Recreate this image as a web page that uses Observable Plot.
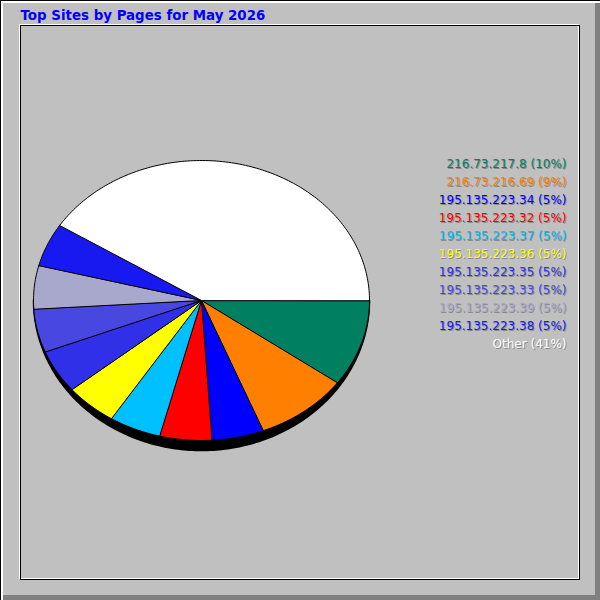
<!DOCTYPE html>
<html><head><meta charset="utf-8">
<script src="https://cdn.jsdelivr.net/npm/d3@7"></script>
<script src="https://cdn.jsdelivr.net/npm/@observablehq/plot@0.6"></script>
<style>html,body{margin:0;padding:0;background:#c0c0c0}svg{display:block}</style>
</head><body><div id="chart"></div>
<script>
const title = "Top Sites by Pages for May 2026";
const sites = ["216.73.217.8","216.73.216.69","195.135.223.34","195.135.223.32","195.135.223.37","195.135.223.36","195.135.223.35","195.135.223.33","195.135.223.39","195.135.223.38","Other"];
const percents = [10,9,5,5,5,5,5,5,5,5,41];
const colors = ["#008060","#ff8000","#0000ff","#ff0000","#00c0ff","#ffff00","#3030e8","#4848e0","#a8a8cc","#1818f0","#ffffff"];

// geometry (layout)
const cx = 201, cy = 300, rx = 168, ry = 140, depth = 10;
const total = d3.sum(percents);

function arcPoints(a0, a1, ryy) {
  const n = Math.max(2, Math.ceil((a1 - a0) / (Math.PI / 180)));
  const pts = [{x: cx, y: cy}];
  for (let j = 0; j <= n; j++) {
    const t = a0 + (a1 - a0) * j / n;
    pts.push({x: cx + rx * Math.cos(t), y: cy + ryy * Math.sin(t)});
  }
  return pts;
}

let cum = 0;
const sliceMarks = percents.map((p, i) => {
  const a0 = cum / total * 2 * Math.PI;
  cum += p;
  const a1 = cum / total * 2 * Math.PI;
  return Plot.line(arcPoints(a0, a1, ry), {x: "x", y: "y", fill: colors[i], stroke: "black", strokeWidth: 1, curve: "linear-closed"});
});
const shadow = Plot.line(arcPoints(0, Math.PI, ry + depth), {x: "x", y: "y", fill: "black", stroke: "black", curve: "linear-closed"});

const legend = sites.map((s, i) => ({label: `${s} (${percents[i]}%)`, color: colors[i], row: i}));
const lx = 566, ly0 = 164, ldy = 18;

const chart = Plot.plot({
  width: 600, height: 600, margin: 0,
  x: {domain: [0, 600], range: [0, 600], axis: null},
  y: {domain: [0, 600], range: [0, 600], axis: null},
  style: {background: "#c0c0c0"},
  marks: [
    Plot.rect([0], {x1: 0, x2: 600, y1: 0, y2: 600, fill: "black"}),
    Plot.rect([0], {x1: 1, x2: 600, y1: 1, y2: 600, fill: "white"}),
    Plot.rect([0], {x1: 3, x2: 600, y1: 3, y2: 600, fill: "#808080"}),
    Plot.rect([0], {x1: 3, x2: 595, y1: 3, y2: 595, fill: "#c0c0c0"}),
    Plot.rect([0], {x1: 19.5, x2: 578.5, y1: 24.5, y2: 578.5, fill: "none", stroke: "white"}),
    Plot.rect([0], {x1: 20.5, x2: 579.5, y1: 25.5, y2: 579.5, fill: "none", stroke: "black"}),
    Plot.text([title], {x: 20, y: 14.8, text: d => d, textAnchor: "start", fill: "#0000ff", fontWeight: "bold", fontSize: 13.4, fontFamily: "DejaVu Sans"}),
    shadow,
    ...sliceMarks,
    Plot.text(legend, {x: lx + 1, y: d => ly0 + ldy * d.row + 1, text: "label", textAnchor: "end", fill: "#8a8a8a", fontSize: 12, fontFamily: "DejaVu Sans"}),
    Plot.text(legend, {x: lx, y: d => ly0 + ldy * d.row, text: "label", textAnchor: "end", fill: d => d.color, fontSize: 12, fontFamily: "DejaVu Sans"})
  ],
  color: {type: "identity"}
});
document.getElementById("chart").appendChild(chart);
</script>
</body></html>
